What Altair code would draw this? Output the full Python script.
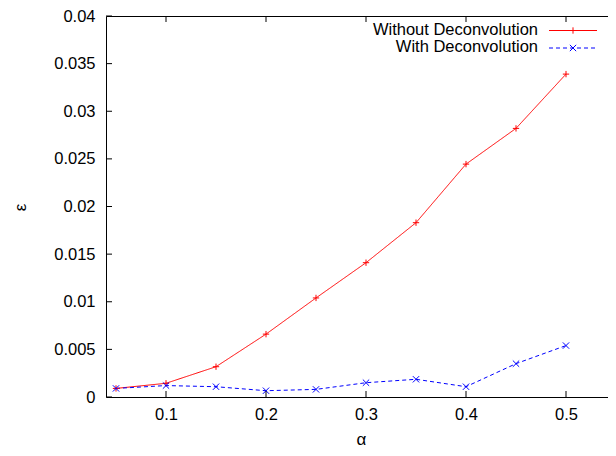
import altair as alt
import pandas as pd

# ---- data ----
alpha = [0.05, 0.10, 0.15, 0.20, 0.25, 0.30, 0.35, 0.40, 0.45, 0.50]
without_deconv = [0.0009, 0.00144, 0.00318, 0.0066, 0.0104, 0.0141, 0.0183, 0.02445, 0.0282, 0.0339]
with_deconv = [0.0009, 0.0012, 0.00108, 0.00066, 0.0008, 0.0015, 0.00186, 0.00108, 0.0035, 0.0054]
series_names = ["Without Deconvolution", "With Deconvolution"]
series_colors = ["#ff0000", "#0000ff"]
x_ticks = [0.1, 0.2, 0.3, 0.4, 0.5]
y_ticks = [0, 0.005, 0.01, 0.015, 0.02, 0.025, 0.03, 0.035, 0.04]

PLUS = "M-1,0L1,0M0,-1L0,1"
CROSS = "M-1,-1L1,1M-1,1L1,-1"
shapes = [PLUS, CROSS]
dashes = [[1, 0], [4, 3]]

FONT = "Liberation Sans"
W, H = 510, 381

rows = []
for a, v in zip(alpha, without_deconv):
    rows.append({"alpha": a, "eps": v, "series": series_names[0]})
for a, v in zip(alpha, with_deconv):
    rows.append({"alpha": a, "eps": v, "series": series_names[1]})
df = pd.DataFrame(rows)

xscale = alt.Scale(domain=[0.04, 0.55], nice=False, zero=False)
yscale = alt.Scale(domain=[0, 0.04], nice=False, zero=False)

xaxis = alt.Axis(values=x_ticks, format="~g", ticks=False, domain=False, grid=False,
                 labelFont=FONT, labelFontSize=16.5, labelColor="black", labelPadding=9,
                 title="α", titleFont=FONT, titleFontSize=17, titleFontWeight="normal",
                 titleColor="black", titleX=W / 2, titleY=47, titleBaseline="alphabetic",
                 titleAlign="center")
yaxis = alt.Axis(values=y_ticks, format="~g", ticks=False, domain=False, grid=False,
                 labelFont=FONT, labelFontSize=16.5, labelColor="black", labelPadding=11,
                 title="ε", titleFont=FONT, titleFontSize=17, titleFontWeight="normal",
                 titleColor="black", titleX=-86, titleY=191, titleAngle=270,
                 titleBaseline="middle", titleAlign="center")

color = alt.Color("series:N", scale=alt.Scale(domain=series_names, range=series_colors), legend=None)
dash = alt.StrokeDash("series:N", scale=alt.Scale(domain=series_names, range=dashes), legend=None)
shape = alt.Shape("series:N", scale=alt.Scale(domain=series_names, range=shapes), legend=None)

base = alt.Chart(df)
lines = base.mark_line(strokeWidth=1).encode(
    x=alt.X("alpha:Q", scale=xscale, axis=xaxis),
    y=alt.Y("eps:Q", scale=yscale, axis=yaxis),
    color=color, strokeDash=dash, detail="series:N",
)
points = base.mark_point(size=40, filled=False, strokeWidth=1, opacity=1).encode(
    x=alt.X("alpha:Q", scale=xscale, axis=xaxis),
    y=alt.Y("eps:Q", scale=yscale, axis=yaxis),
    color=color, shape=shape,
)

# inward ticks on all four sides
xt = alt.Chart(pd.DataFrame({"v": x_ticks}))
yt = alt.Chart(pd.DataFrame({"v": y_ticks}))
TL = 6
tick_layers = [
    xt.mark_rule(color="black", strokeWidth=1).encode(
        x=alt.X("v:Q", scale=xscale, axis=xaxis), y=alt.value(H), y2=alt.value(H - TL)),
    xt.mark_rule(color="black", strokeWidth=1).encode(
        x=alt.X("v:Q", scale=xscale, axis=xaxis), y=alt.value(0), y2=alt.value(TL)),
    yt.mark_rule(color="black", strokeWidth=1).encode(
        y=alt.Y("v:Q", scale=yscale, axis=yaxis), x=alt.value(0), x2=alt.value(TL)),
    yt.mark_rule(color="black", strokeWidth=1).encode(
        y=alt.Y("v:Q", scale=yscale, axis=yaxis), x=alt.value(W), x2=alt.value(W - TL)),
]

# gnuplot-style key (label left of sample)
legend_layers = []
key_rows = [13.5, 31]
for name, col, shp, dsh, ky in zip(series_names, series_colors, shapes, dashes, key_rows):
    kd = alt.Chart(pd.DataFrame({"label": [name]}))
    legend_layers.append(kd.mark_text(align="right", baseline="middle", font=FONT,
                                      fontSize=16.5, color="black").encode(
        text="label:N", x=alt.value(432), y=alt.value(ky)))
    legend_layers.append(kd.mark_rule(color=col, strokeWidth=1, strokeDash=dsh).encode(
        x=alt.value(443), x2=alt.value(491), y=alt.value(ky + 1)))
    legend_layers.append(kd.mark_point(shape=shp, size=40, filled=False, strokeWidth=1,
                                       opacity=1, color=col).encode(
        x=alt.value(467), y=alt.value(ky + 1)))

chart = alt.layer(lines, points, *tick_layers, *legend_layers).properties(
    width=W, height=H,
    background="white",
    autosize=alt.AutoSizeParams(type="none"),
    padding={"left": 98, "top": 8, "right": -8, "bottom": 51},
).configure_view(stroke="black", strokeWidth=1)

chart.save("out.html", embed_options={"renderer": "svg", "actions": False})
